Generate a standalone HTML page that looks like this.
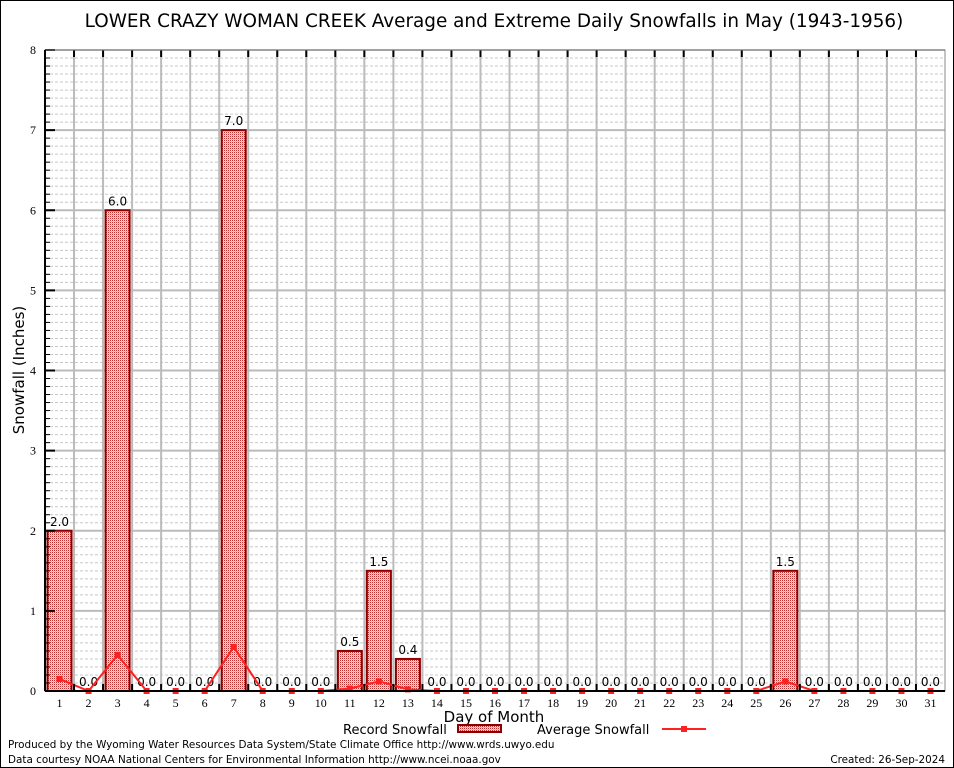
<!DOCTYPE html>
<html><head><meta charset="utf-8"><style>
body{margin:0;background:#fff;}
svg{display:block;font-family:"DejaVu Sans","Liberation Sans",sans-serif;}
</style></head><body>
<svg id="chart" width="954" height="768" viewBox="0 0 954 768" xmlns="http://www.w3.org/2000/svg">
<defs>
<pattern id="chk" width="2" height="2" patternUnits="userSpaceOnUse">
<rect width="2" height="2" fill="#f6dcdc"/>
<rect x="0" y="0" width="1" height="1" fill="#c03030"/>
<rect x="1" y="1" width="1" height="1" fill="#e8b0b0"/>
</pattern>
</defs>
<rect x="0.5" y="0.5" width="953" height="767" fill="#fff" stroke="#000"/>
<text x="494" y="27" font-size="18.4" text-anchor="middle">LOWER CRAZY WOMAN CREEK Average and Extreme Daily Snowfalls in May (1943-1956)</text>
<g id="grid"></g>
<g id="bars"></g>
<g id="line"></g>
<g id="axes"></g>
<text x="24" y="370" font-size="15" text-anchor="middle" transform="rotate(-90 24 370)">Snowfall (Inches)</text>
<text x="494" y="722" font-size="15" text-anchor="middle">Day of Month</text>
<g>
<text x="343" y="734" font-size="13">Record Snowfall</text>
<rect x="458" y="725" width="43" height="7" fill="url(#chk)" stroke="#8b0000" stroke-width="2"/>
<text x="537" y="734" font-size="13">Average Snowfall</text>
<line x1="662" y1="729" x2="706" y2="729" stroke="#ff2020" stroke-width="2"/>
<rect x="681" y="726" width="6" height="6" fill="#ff2020"/>
</g>
<text x="8" y="748" font-size="10.4">Produced by the Wyoming Water Resources Data System/State Climate Office http://www.wrds.uwyo.edu</text>
<text x="8" y="763" font-size="10.4">Data courtesy NOAA National Centers for Environmental Information http://www.ncei.noaa.gov</text>
<text x="945" y="763" font-size="10.4" text-anchor="end">Created:  26-Sep-2024</text>
</svg>
<script>
const days = [1,2,3,4,5,6,7,8,9,10,11,12,13,14,15,16,17,18,19,20,21,22,23,24,25,26,27,28,29,30,31];
const recordSnow = [2.0,0,6.0,0,0,0,7.0,0,0,0,0.5,1.5,0.4,0,0,0,0,0,0,0,0,0,0,0,0,1.5,0,0,0,0,0];
const avgSnow = [0.15,0,0.45,0,0,0,0.55,0,0,0,0.03,0.12,0.02,0,0,0,0,0,0,0,0,0,0,0,0,0.12,0,0,0,0,0];
const yTicks = [0,1,2,3,4,5,6,7,8];

const L=45,R=945,T=50,B=691,NS="http://www.w3.org/2000/svg";
const dw=(R-L)/days.length;
const xC=i=>L+dw*(i+0.5);
const yS=v=>B-(v/8)*(B-T);
function mk(tag,attrs,parent){const e=document.createElementNS(NS,tag);for(const k in attrs)e.setAttribute(k,attrs[k]);parent.appendChild(e);return e;}
const grid=document.getElementById('grid'),bars=document.getElementById('bars'),line=document.getElementById('line'),axes=document.getElementById('axes');
for(let v=0.1;v<8;v+=0.1){if(Math.abs(v-Math.round(v))<0.01)continue;
 const l=mk('line',{x1:L,x2:R,y1:yS(v),y2:yS(v),stroke:'#c8c8c8','stroke-dasharray':'3,2','stroke-width':1},grid);
 
 
 const t=mk('line',{x1:L,x2:L+5,y1:yS(v),y2:yS(v),stroke:'#000'},axes);
 
 }
yTicks.forEach(v=>{
 const l=mk('line',{x1:L,x2:R,y1:yS(v),y2:yS(v),stroke:'#bbb','stroke-width':2},grid);
 
 
 const t=mk('line',{x1:L,x2:L+10,y1:yS(v),y2:yS(v),stroke:'#000','stroke-width':2},axes);
 
 
 const tx=mk('text',{x:L-9,y:yS(v)+4,'font-size':12,'text-anchor':'end','font-family':'Liberation Serif, serif'},axes);
 tx.textContent=v;
 
 
});
for(let i=1;i<days.length;i++){
 const x=L+dw*i;
 const l=mk('line',{x1:x,x2:x,y1:T,y2:B,stroke:'#bbb','stroke-width':2},grid);
 
 
 const t1=mk('line',{x1:x,x2:x,y1:T,y2:T+7,stroke:'#000','stroke-width':2},axes);
 
 
 const t2=mk('line',{x1:x,x2:x,y1:B-7,y2:B,stroke:'#000','stroke-width':2},axes);
 
 
}
days.forEach((d,i)=>{
 const v=recordSnow[i];
 if(v>0){
  const r=mk('rect',{x:xC(i)-12,y:yS(v),width:24,height:B-yS(v),fill:'url(#chk)',stroke:'#8b0000','stroke-width':2},bars);
  
  
 }
 const lb=mk('text',{x:xC(i),y:yS(v)-5,'font-size':12,'text-anchor':'middle'},bars);
 lb.textContent=v.toFixed(1);
 
 
 const xl=mk('text',{x:xC(i),y:B+16,'font-size':12,'text-anchor':'middle','font-family':'Liberation Serif, serif'},axes);
 xl.textContent=d;
 
 
});
const pl=mk('polyline',{points:avgSnow.map((v,i)=>xC(i)+','+yS(v)).join(' '),fill:'none',stroke:'#ff2020','stroke-width':2},line);


avgSnow.forEach((v,i)=>{
 const m=mk('rect',{x:xC(i)-3,y:yS(v)-3,width:6,height:6,fill:'#ff2020'},line);
 
 
});
const fr=mk('rect',{x:L,y:T,width:R-L,height:B-T,fill:'none',stroke:'#888','stroke-width':1},axes);


const ax=mk('line',{x1:L,x2:R,y1:B,y2:B,stroke:'#000','stroke-width':2},axes);


const ay=mk('line',{x1:L,x2:L,y1:T,y2:B,stroke:'#000','stroke-width':2},axes);


</script>
</body></html>
